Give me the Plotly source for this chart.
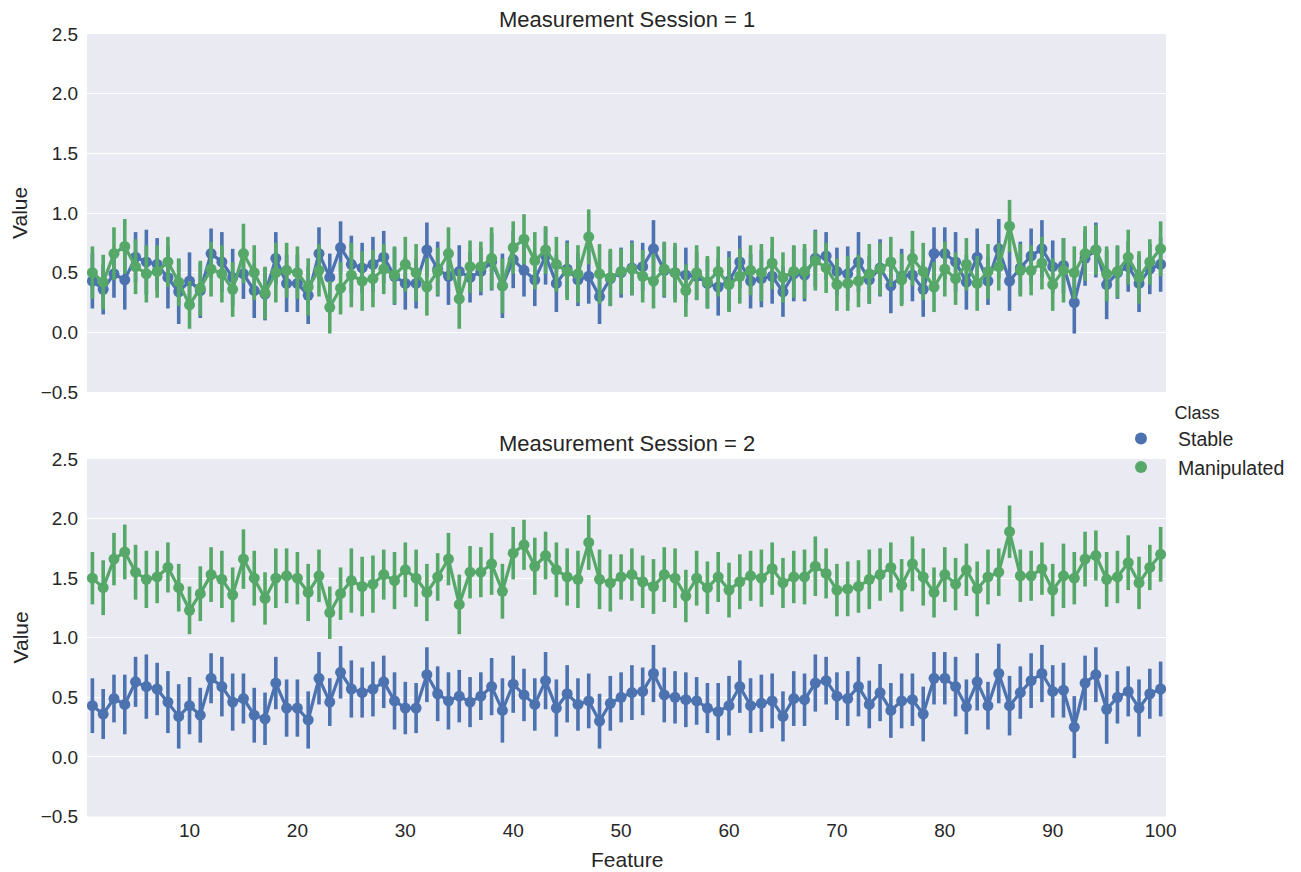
import plotly.graph_objects as go

features = list(range(1, 101))
classes = ["Stable", "Manipulated"]
sessions = [1, 2]
ytick_vals = [-0.5, 0.0, 0.5, 1.0, 1.5, 2.0, 2.5]
ytick_text = ["\u22120.5", "0.0", "0.5", "1.0", "1.5", "2.0", "2.5"]
xtick_vals = [10, 20, 30, 40, 50, 60, 70, 80, 90, 100]

stable = [0.43,0.36,0.49,0.44,0.63,0.59,0.57,0.46,0.34,0.43,
          0.35,0.66,0.59,0.46,0.49,0.35,0.32,0.62,0.41,0.41,
          0.31,0.66,0.46,0.71,0.57,0.54,0.57,0.63,0.47,0.41,
          0.41,0.69,0.53,0.47,0.51,0.46,0.51,0.59,0.39,0.61,
          0.52,0.44,0.64,0.41,0.53,0.44,0.47,0.30,0.45,0.50,
          0.54,0.55,0.70,0.52,0.50,0.48,0.47,0.41,0.38,0.43,
          0.59,0.43,0.45,0.47,0.34,0.49,0.48,0.62,0.64,0.51,
          0.49,0.59,0.44,0.54,0.39,0.47,0.48,0.36,0.66,0.66,
          0.59,0.42,0.63,0.43,0.70,0.43,0.54,0.64,0.70,0.55,
          0.56,0.25,0.62,0.69,0.40,0.50,0.55,0.41,0.53,0.57]

stable_err = [0.23,0.21,0.20,0.25,0.21,0.27,0.22,0.26,0.27,0.24,
              0.23,0.21,0.25,0.24,0.21,0.23,0.22,0.22,0.24,0.24,
              0.24,0.22,0.20,0.22,0.24,0.21,0.23,0.22,0.24,0.22,
              0.21,0.23,0.23,0.24,0.22,0.21,0.20,0.24,0.27,0.24,
              0.22,0.22,0.24,0.24,0.24,0.22,0.23,0.23,0.23,0.21,
              0.23,0.20,0.24,0.23,0.22,0.23,0.20,0.21,0.24,0.25,
              0.22,0.23,0.24,0.23,0.21,0.23,0.22,0.24,0.20,0.20,
              0.23,0.25,0.20,0.24,0.23,0.23,0.22,0.23,0.22,0.22,
              0.25,0.23,0.24,0.20,0.25,0.25,0.22,0.23,0.24,0.22,
              0.23,0.26,0.23,0.23,0.29,0.22,0.21,0.24,0.21,0.23]

manip_s1 = [0.50,0.42,0.66,0.72,0.55,0.49,0.51,0.59,0.42,0.23,
            0.37,0.53,0.49,0.36,0.66,0.50,0.33,0.50,0.52,0.50,
            0.38,0.52,0.21,0.37,0.48,0.43,0.45,0.53,0.48,0.57,
            0.50,0.38,0.51,0.66,0.28,0.55,0.55,0.62,0.39,0.71,
            0.78,0.60,0.69,0.57,0.51,0.49,0.80,0.49,0.46,0.51,
            0.53,0.47,0.43,0.53,0.50,0.35,0.50,0.42,0.51,0.40,
            0.47,0.52,0.50,0.58,0.46,0.51,0.51,0.60,0.54,0.40,
            0.41,0.43,0.49,0.53,0.59,0.44,0.62,0.51,0.38,0.53,
            0.45,0.57,0.41,0.51,0.55,0.89,0.52,0.52,0.58,0.40,
            0.52,0.50,0.66,0.69,0.49,0.51,0.63,0.46,0.59,0.70]

manip_s2 = [1.50,1.42,1.66,1.72,1.55,1.49,1.51,1.59,1.42,1.23,
            1.37,1.53,1.49,1.36,1.66,1.50,1.33,1.50,1.52,1.50,
            1.38,1.52,1.21,1.37,1.48,1.43,1.45,1.53,1.48,1.57,
            1.50,1.38,1.51,1.66,1.28,1.55,1.55,1.62,1.39,1.71,
            1.78,1.60,1.69,1.57,1.51,1.49,1.80,1.49,1.46,1.51,
            1.53,1.47,1.43,1.53,1.50,1.35,1.50,1.42,1.51,1.40,
            1.47,1.52,1.50,1.58,1.46,1.51,1.51,1.60,1.54,1.40,
            1.41,1.43,1.49,1.53,1.59,1.44,1.62,1.51,1.38,1.53,
            1.45,1.57,1.41,1.51,1.55,1.89,1.52,1.52,1.58,1.40,
            1.52,1.50,1.66,1.69,1.49,1.51,1.63,1.46,1.59,1.70]

manip_err = [0.22,0.23,0.22,0.23,0.23,0.24,0.22,0.21,0.20,0.20,
             0.23,0.23,0.24,0.23,0.25,0.23,0.22,0.25,0.23,0.22,
             0.24,0.22,0.22,0.22,0.27,0.25,0.24,0.21,0.24,0.23,
             0.24,0.24,0.20,0.22,0.25,0.22,0.21,0.26,0.23,0.22,
             0.21,0.24,0.20,0.23,0.24,0.24,0.23,0.25,0.24,0.19,
             0.22,0.22,0.23,0.23,0.25,0.22,0.23,0.22,0.21,0.23,
             0.23,0.21,0.24,0.22,0.21,0.22,0.23,0.25,0.21,0.22,
             0.23,0.22,0.25,0.22,0.21,0.22,0.23,0.24,0.21,0.23,
             0.22,0.22,0.23,0.23,0.20,0.22,0.22,0.21,0.22,0.22,
             0.27,0.22,0.23,0.21,0.23,0.22,0.23,0.22,0.19,0.23]

colors = {"Stable": "#4C72B0", "Manipulated": "#55A868"}
FONT = "Liberation Sans, Arial, sans-serif"
TXT = "#262626"

panel_data = {
    1: {"Stable": (stable, stable_err), "Manipulated": (manip_s1, manip_err)},
    2: {"Stable": (stable, stable_err), "Manipulated": (manip_s2, manip_err)},
}

fig = go.Figure()
for s in sessions:
    xa = "x" if s == 1 else "x2"
    ya = "y" if s == 1 else "y2"
    for c in classes:
        vals, errs = panel_data[s][c]
        fig.add_trace(go.Scatter(
            x=features, y=vals, mode="lines+markers", xaxis=xa, yaxis=ya,
            line=dict(color=colors[c], width=3.2),
            marker=dict(color=colors[c], size=11),
            error_y=dict(type="data", array=errs, symmetric=True, thickness=3.6,
                         width=0, color=colors[c]),
            showlegend=False, name=c, cliponaxis=True))

# legend entries (dot only, like seaborn)
for c in classes:
    fig.add_trace(go.Scatter(x=[None], y=[None], mode="markers", name=c,
                             marker=dict(color=colors[c], size=11),
                             xaxis="x2", yaxis="y2", showlegend=True))

W, H = 1301, 872
x0, x1 = 87 / W, 1166 / W
top_dom = [1 - 392 / H, 1 - 34 / H]
bot_dom = [1 - 816.5 / H, 1 - 459 / H]

axis_common = dict(range=[0.5, 100.5], showgrid=False, zeroline=False,
                   showline=False, domain=[x0, x1], automargin=False)
yaxis_common = dict(range=[-0.5, 2.5], tickvals=ytick_vals, ticktext=ytick_text,
                    showgrid=True, gridcolor="white", gridwidth=1.3,
                    zeroline=False, showline=False, ticks="outside",
                    ticklen=4, tickcolor="rgba(0,0,0,0)", automargin=False,
                    tickfont=dict(family=FONT, size=19, color=TXT))

fig.update_layout(
    template="none",
    width=W, height=H, autosize=False,
    margin=dict(l=0, r=0, t=0, b=0, pad=0, autoexpand=False),
    paper_bgcolor="white", plot_bgcolor="#EAEAF2",
    font=dict(family=FONT, color=TXT),
    xaxis=dict(**axis_common, anchor="y", showticklabels=False),
    yaxis=dict(**yaxis_common, domain=top_dom, anchor="x"),
    xaxis2=dict(**axis_common, anchor="y2", tickvals=xtick_vals,
                ticks="", ticklen=0,
                tickfont=dict(family=FONT, size=19, color=TXT)),
    yaxis2=dict(**yaxis_common, domain=bot_dom, anchor="x2"),
    showlegend=True,
    legend=dict(x=1104 / W, y=1 - 396 / H, xanchor="left", yanchor="top",
                bgcolor="rgba(0,0,0,0)", borderwidth=0, itemwidth=64,
                font=dict(family=FONT, size=19.5, color=TXT),
                title=dict(text="Class", side="top center",
                           font=dict(family=FONT, size=18, color=TXT)),
                tracegroupgap=0, itemsizing="constant"),
    annotations=[
        dict(text="Measurement Session = 1", x=(x0 + x1) / 2, y=1 - 19 / H,
             xref="paper", yref="paper", showarrow=False,
             xanchor="center", yanchor="middle",
             font=dict(family=FONT, size=22, color=TXT)),
        dict(text="Measurement Session = 2", x=(x0 + x1) / 2, y=1 - 443 / H,
             xref="paper", yref="paper", showarrow=False,
             xanchor="center", yanchor="middle",
             font=dict(family=FONT, size=22, color=TXT)),
        dict(text="Value", x=20 / W, y=1 - 213 / H, xref="paper", yref="paper",
             showarrow=False, textangle=-90, xanchor="center", yanchor="middle",
             font=dict(family=FONT, size=21, color=TXT)),
        dict(text="Value", x=20 / W, y=1 - 637.5 / H, xref="paper", yref="paper",
             showarrow=False, textangle=-90, xanchor="center", yanchor="middle",
             font=dict(family=FONT, size=21, color=TXT)),
        dict(text="Feature", x=(x0 + x1) / 2, y=1 - 859 / H, xref="paper",
             yref="paper", showarrow=False, xanchor="center", yanchor="middle",
             font=dict(family=FONT, size=21, color=TXT)),
    ],
)

fig.write_html("out.html")
